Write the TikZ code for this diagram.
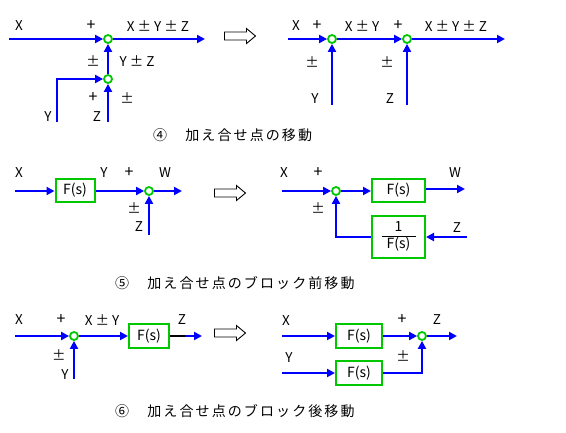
\documentclass[tikz,border=0pt]{standalone}
\usepackage{fontspec}
\setmainfont{Noto Sans CJK JP}
\newfontfamily\capfont[LetterSpace=15]{Noto Sans CJK JP}
\usetikzlibrary{arrows.meta, positioning}
\definecolor{sigblue}{RGB}{0,0,255}
\definecolor{boxgreen}{RGB}{0,200,0}
\setlength{\arrayrulewidth}{1pt}

\begin{document}
\begin{tikzpicture}[x=1pt, y=-1pt, >={Triangle[length=8pt,width=8pt]}]
\tikzset{sig/.style={draw=sigblue, fill=none, line width=2.4pt},
		sum/.style={circle, draw=boxgreen, line width=1.8pt, inner sep=0pt, minimum size=8pt},
		block/.style={rectangle, align=center, draw=boxgreen, line width=2pt, inner sep=0pt, font=\fontsize{14}{16}\selectfont},
		lbl/.style={inner sep=0pt, font=\fontsize{13.5}{16}\selectfont},
		sgn/.style={inner sep=0pt, font=\fontsize{16}{16}\selectfont},
		caption/.style={anchor=west, inner sep=0pt, font=\capfont\fontsize{14}{16}\selectfont},
		bigarrow/.style={draw, line width=0.9pt}}
\useasboundingbox (0,0) rectangle (566,432);
\foreach \cx/\cy in {240/36, 230/193, 230/333}
	\draw[bigarrow] (\cx-15.5,\cy-4) -- (\cx+6.5,\cy-4) -- (\cx+6.5,\cy-7.5) -- (\cx+15.5,\cy)
		-- (\cx+6.5,\cy+7.5) -- (\cx+6.5,\cy+4) -- (\cx-15.5,\cy+4) -- cycle;
\node[sum] (SA) at (108,39) {};
\node[sum] (SB) at (108,79) {};
\coordinate (XA) at (9,39);
\coordinate (OA) at (205,39);
\coordinate (YA) at (57,122);
\coordinate (ZA) at (108,122);
\draw[sig,->] (XA) -- (SA);
\draw[sig,->] (SA) -- (OA);
\draw[sig,->] (SB) -- (SA);
\draw[sig,->] (YA) |- (SB);
\draw[sig,->] (ZA) -- (SB);
\node[lbl] at (19,26) {X};
\node[sgn] at (91,26) {+};
\node[lbl] at (158,26) {X ± Y ± Z};
\node[lbl] at (93,61) {±};
\node[lbl] at (137,61) {Y ± Z};
\node[sgn] at (93,98) {+};
\node[lbl] at (127,98) {±};
\node[lbl] at (48,117) {Y};
\node[lbl] at (97,117) {Z};
\node[sum] (SC) at (332,39) {};
\node[sum] (SD) at (407,39) {};
\coordinate (XC) at (288,39);
\coordinate (OC) at (505,39);
\coordinate (YC) at (332,105);
\coordinate (ZC) at (407,105);
\draw[sig,->] (XC) -- (SC);
\draw[sig,->] (SC) -- (SD);
\draw[sig,->] (SD) -- (OC);
\draw[sig,->] (YC) -- (SC);
\draw[sig,->] (ZC) -- (SD);
\node[lbl] at (296,26) {X};
\node[sgn] at (317,26) {+};
\node[lbl] at (362,26) {X ± Y};
\node[sgn] at (398,26) {+};
\node[lbl] at (456,26) {X ± Y ± Z};
\node[lbl] at (312,62) {±};
\node[lbl] at (387,62) {±};
\node[lbl] at (315,99) {Y};
\node[lbl] at (390,99) {Z};
\node[caption] at (153,135) {④　加え合せ点の移動};
\node[block, minimum width=39pt, minimum height=23pt] (FA) at (75,190) {F(s)};
\node[sum] (SE) at (149,191) {};
\coordinate (XE) at (15,191);
\coordinate (WE) at (182,191);
\coordinate (ZE) at (149,235);
\draw[sig,->] (XE) -- (XE -| FA.west);
\draw[sig,->] (FA.east |- SE) -- (SE);
\draw[sig,->] (SE) -- (WE);
\draw[sig,->] (ZE) -- (SE);
\node[lbl] at (19,173) {X};
\node[lbl] at (104,173) {Y};
\node[sgn] at (129,173) {+};
\node[lbl] at (165,173) {W};
\node[lbl] at (134,208) {±};
\node[lbl] at (139,227) {Z};
\node[sum] (SF) at (336,191) {};
\node[block, minimum width=53pt, minimum height=23pt] (FB) at (398.5,190) {F(s)};
\node[block, minimum width=53pt, minimum height=42pt] (FI) at (398.5,237) {\begin{tabular}{@{}c@{}}1\\\hline\makebox[34pt]{F(s)}\end{tabular}};
\coordinate (XF) at (282,191);
\coordinate (WF) at (465,189);
\coordinate (ZF) at (467,237);
\draw[sig,->] (XF) -- (SF);
\draw[sig,->] (SF) -- (SF -| FB.west);
\draw[sig,->] (FB.east |- WF) -- (WF);
\draw[sig,->] (ZF) -- (FI);
\draw[sig,->] (FI) -| (SF);
\node[lbl] at (284,173) {X};
\node[sgn] at (318,173) {+};
\node[lbl] at (455,173) {W};
\node[lbl] at (318,208) {±};
\node[lbl] at (457,228) {Z};
\node[caption] at (115,283) {⑤　加え合せ点のブロック前移動};
\node[sum] (SG) at (74,336) {};
\node[block, minimum width=40pt, minimum height=24pt] (FC) at (149,336) {F(s)};
\coordinate (XG) at (15,336);
\coordinate (KG) at (185,336);
\coordinate (ZG) at (202,336);
\coordinate (YG) at (74,379);
\draw[sig,->] (XG) -- (SG);
\draw[sig,->] (SG) -- (FC);
\draw[line width=2.4pt] (FC) -- (KG);
\draw[sig,->] (KG) -- (ZG);
\draw[sig,->] (YG) -- (SG);
\node[lbl] at (19,320) {X};
\node[sgn] at (61,320) {+};
\node[lbl] at (102,320) {X ± Y};
\node[lbl] at (182,320) {Z};
\node[lbl] at (59,355) {±};
\node[lbl] at (65,375) {Y};
\node[block, minimum width=46pt, minimum height=24pt] (FD) at (359,336) {F(s)};
\node[block, minimum width=46pt, minimum height=24pt] (FE) at (359,373) {F(s)};
\node[sum] (SH) at (422,336) {};
\coordinate (XH) at (282,336);
\coordinate (YH) at (282,373);
\coordinate (ZH) at (457,336);
\draw[sig,->] (XH) -- (FD);
\draw[sig,->] (YH) -- (FE);
\draw[sig,->] (FD) -- (SH);
\draw[sig,->] (SH) -- (ZH);
\draw[sig,->] (FE) -| (SH);
\node[lbl] at (286,321) {X};
\node[lbl] at (289,358) {Y};
\node[sgn] at (402,320) {+};
\node[lbl] at (437,320) {Z};
\node[lbl] at (403,356) {±};
\node[caption] at (115,411) {⑥　加え合せ点のブロック後移動};
\end{tikzpicture}
\end{document}
